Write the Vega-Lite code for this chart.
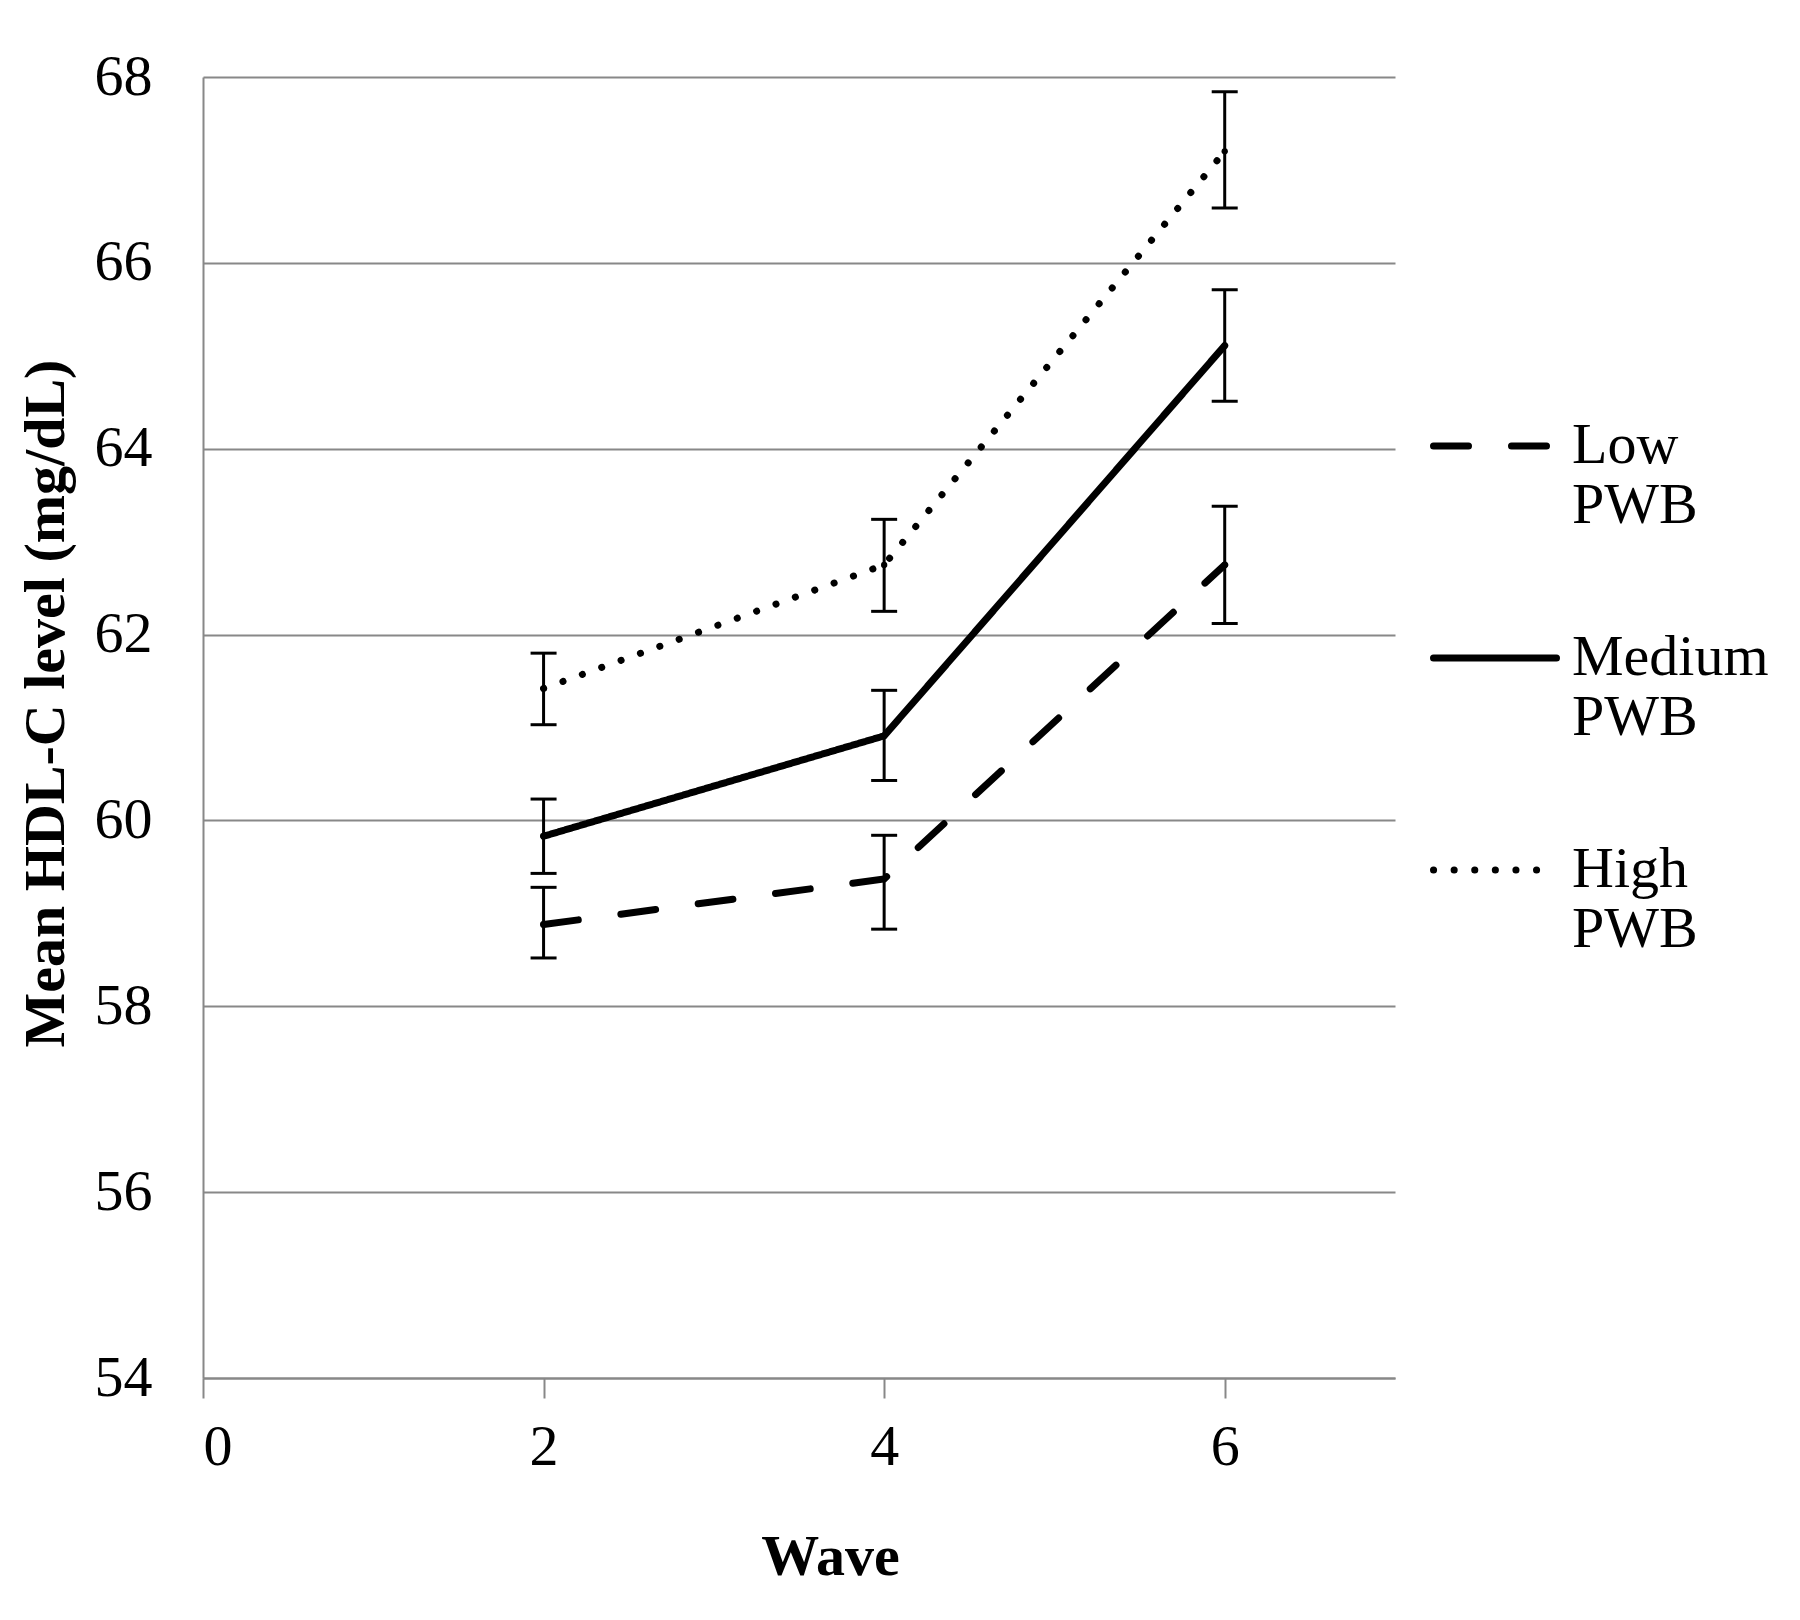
{
  "$schema": "https://vega.github.io/schema/vega-lite/v6.json",
  "width": 1192,
  "height": 1301,
  "autosize": {"type": "none"},
  "padding": {"left": 203, "top": 77, "right": 405, "bottom": 242},
  "background": "white",
  "config": {
    "font": "Liberation Serif",
    "view": {"stroke": null}
  },
  "data": {
    "values": [
      {"wave": 2, "group": "Low PWB", "mean": 58.88, "lo": 58.52, "hi": 59.28},
      {"wave": 4, "group": "Low PWB", "mean": 59.37, "lo": 58.83, "hi": 59.84},
      {"wave": 6, "group": "Low PWB", "mean": 62.75, "lo": 62.12, "hi": 63.38},
      {"wave": 2, "group": "Medium PWB", "mean": 59.83, "lo": 59.43, "hi": 60.23},
      {"wave": 4, "group": "Medium PWB", "mean": 60.91, "lo": 60.43, "hi": 61.40},
      {"wave": 6, "group": "Medium PWB", "mean": 65.11, "lo": 64.51, "hi": 65.71},
      {"wave": 2, "group": "High PWB", "mean": 61.42, "lo": 61.03, "hi": 61.80},
      {"wave": 4, "group": "High PWB", "mean": 62.75, "lo": 62.25, "hi": 63.24},
      {"wave": 6, "group": "High PWB", "mean": 67.2, "lo": 66.59, "hi": 67.84}
    ]
  },
  "encoding": {
    "x": {
      "field": "wave",
      "type": "quantitative",
      "scale": {"domain": [0, 7], "nice": false},
      "axis": {
        "values": [0, 2, 4, 6],
        "format": "d",
        "grid": false,
        "domainColor": "#888888",
        "domainWidth": 2,
        "tickColor": "#888888",
        "tickWidth": 2,
        "tickSize": 20,
        "labelFontSize": 58,
        "labelColor": "black",
        "labelPadding": 20,
        "title": "Wave",
        "titleFontSize": 58,
        "titleFontWeight": "bold",
        "titleColor": "black",
        "titleX": 627,
        "titleY": 196,
        "titleAlign": "center",
        "titleBaseline": "alphabetic"
      }
    }
  },
  "layer": [
    {
      "mark": {"type": "rule", "color": "black", "strokeWidth": 3},
      "encoding": {
        "y": {
          "field": "lo",
          "type": "quantitative",
          "scale": {"domain": [54, 68], "nice": false, "zero": false},
          "axis": {
            "values": [54, 56, 58, 60, 62, 64, 66, 68],
            "format": "d",
            "grid": true,
            "gridColor": "#888888",
            "gridWidth": 2,
            "gridOpacity": 1,
            "ticks": false,
            "domainColor": "#888888",
            "domainWidth": 2,
            "labelFontSize": 58,
            "labelColor": "black",
            "labelPadding": 51,
            "title": "Mean HDL-C level (mg/dL)",
            "titleFontSize": 58,
            "titleFontWeight": "bold",
            "titleColor": "black",
            "titleX": -140,
            "titleY": 626,
            "titleAngle": -90,
            "titleAlign": "center",
            "titleBaseline": "alphabetic"
          }
        },
        "y2": {"field": "hi"}
      }
    },
    {
      "mark": {"type": "tick", "color": "black", "opacity": 1, "orient": "horizontal", "size": 26, "thickness": 3},
      "encoding": {"y": {"field": "lo", "type": "quantitative"}}
    },
    {
      "mark": {"type": "tick", "color": "black", "opacity": 1, "orient": "horizontal", "size": 26, "thickness": 3},
      "encoding": {"y": {"field": "hi", "type": "quantitative"}}
    },
    {
      "mark": {"type": "line", "color": "black", "strokeWidth": 7, "strokeCap": "round"},
      "encoding": {
        "y": {"field": "mean", "type": "quantitative"},
        "strokeDash": {
          "field": "group",
          "type": "nominal",
          "scale": {
            "domain": ["Low PWB", "Medium PWB", "High PWB"],
            "range": [[35, 43], [1, 0], [0.1, 20.5]]
          },
          "legend": {
            "orient": "none",
            "legendX": 1227,
            "legendY": 304,
            "title": null,
            "padding": 0,
            "symbolType": "stroke",
            "symbolSize": 15129,
            "symbolStrokeWidth": 7,
            "symbolStrokeColor": "black",
            "labelFontSize": 58,
            "labelColor": "black",
            "labelOffset": 12,
            "labelLimit": 0,
            "labelBaseline": "middle",
            "rowPadding": 58,
            "labelExpr": "split(datum.label, ' ')",
            "encode": {
              "symbols": {"update": {"strokeCap": {"value": "round"}}}
            }
          }
        }
      }
    },
    {
      "mark": {"type": "point", "filled": true, "color": "black", "size": 40, "opacity": 1},
      "encoding": {"y": {"field": "mean", "type": "quantitative"}}
    }
  ]
}
